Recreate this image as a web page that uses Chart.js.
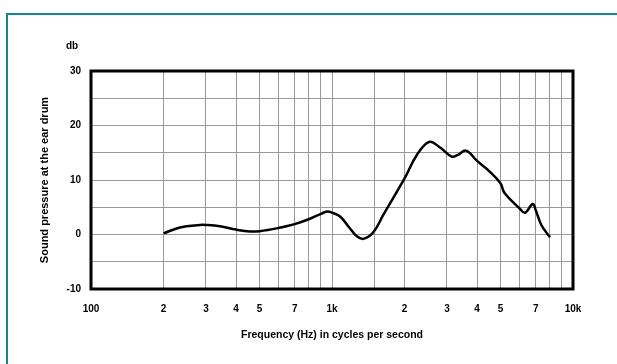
<!DOCTYPE html>
<html>
<head>
<meta charset="utf-8">
<title>Sound pressure at the ear drum</title>
<script src="https://cdn.jsdelivr.net/npm/chart.js@4/dist/chart.umd.min.js"></script>
<style>
  html, body { margin: 0; padding: 0; background: #fff; overflow: hidden; }
  #wrap { position: relative; width: 617px; height: 364px; }
  #frame {
    position: absolute; left: 6px; top: 13px; right: -20px; bottom: -20px;
    border-left: 2px solid #17868b; border-top: 2px solid #17868b;
  }
  canvas { position: absolute; left: 0; top: 0; }
</style>
</head>
<body>
<div id="wrap">
  <div id="frame"></div>
  <canvas id="chart" width="617" height="364"></canvas>
</div>
<script>
// frequency (Hz) and response (db)
const freqs = [200, 234, 283, 300, 343, 400, 457, 500, 600, 700, 800, 900, 955, 1000,
  1080, 1188, 1266, 1349, 1484, 1632, 2000, 2250, 2533, 2800, 3138, 3330, 3597,
  4000, 4500, 5000, 5200, 6000, 6320, 6805, 7000, 7400, 8030];
const dbValues = [0.2, 1.3, 1.75, 1.75, 1.5, 0.9, 0.55, 0.6, 1.2, 1.9, 2.8, 3.8, 4.2, 4.0,
  3.3, 1.1, -0.3, -0.8, 0.4, 3.6, 10.3, 14.6, 17.0, 16.0, 14.3, 14.6, 15.4,
  13.5, 11.6, 9.4, 7.6, 4.8, 4.0, 5.6, 4.5, 1.7, -0.5];

// tick labels on the frequency axis
const xTickValues = [100, 200, 300, 400, 500, 700, 1000, 2000, 3000, 4000, 5000, 7000, 10000];
const xTickText = ['100', '2', '3', '4', '5', '7', '1k', '2', '3', '4', '5', '7', '10k'];
const yLabels = [-10, 0, 10, 20, 30];

const FONT = '"Liberation Sans", Arial, Helvetica, sans-serif';
const boldFont = { family: FONT, size: 10, weight: 'bold' };

const points = freqs.map((f, i) => ({ x: f, y: dbValues[i] }));

// thick black box round the plot, plus the "db" unit label
const framePlugin = {
  id: 'frame',
  afterDraw(chart) {
    const { ctx, chartArea: a } = chart;
    ctx.save();
    ctx.strokeStyle = '#000';
    ctx.lineWidth = 3;
    ctx.strokeRect(a.left, a.top, a.right - a.left, a.bottom - a.top);
    ctx.fillStyle = '#000';
    ctx.font = 'bold 10px ' + FONT;
    ctx.textAlign = 'center';
    ctx.textBaseline = 'middle';
    ctx.fillText('db', 72, 46);
    ctx.restore();
  }
};

new Chart(document.getElementById('chart').getContext('2d'), {
  type: 'scatter',
  data: {
    datasets: [{
      data: points,
      showLine: true,
      borderColor: '#000',
      borderWidth: 2.5,
      pointRadius: 0,
      tension: 0.4,
      fill: false
    }]
  },
  options: {
    responsive: false,
    animation: false,
    layout: { padding: { left: 34, right: 44, top: 71, bottom: 19 } },
    plugins: { legend: { display: false }, tooltip: { enabled: false } },
    scales: {
      x: {
        type: 'logarithmic',
        min: 100,
        max: 10000,
        afterFit: (scale) => { scale.height = 56; },
        grid: { color: '#999', lineWidth: 1, drawTicks: false },
        border: { display: false },
        ticks: {
          color: '#000',
          font: boldFont,
          padding: 14,
          autoSkip: false,
          maxRotation: 0,
          callback: (value) => {
            const idx = xTickValues.indexOf(Math.round(value));
            return idx >= 0 ? xTickText[idx] : '';
          }
        },
        title: {
          display: true,
          text: 'Frequency (Hz) in cycles per second',
          color: '#000',
          font: { family: FONT, size: 10.5, weight: 'bold' }
        }
      },
      y: {
        min: -10,
        max: 30,
        afterFit: (scale) => { scale.width = 57; },
        grid: { color: '#999', lineWidth: 1, drawTicks: false },
        border: { display: false },
        ticks: {
          stepSize: 5,
          color: '#000',
          font: boldFont,
          padding: 10,
          callback: (value) => yLabels.includes(value) ? String(value) : ''
        },
        title: {
          display: true,
          text: 'Sound pressure at the ear drum',
          color: '#000',
          font: { family: FONT, size: 11, weight: 'bold' }
        }
      }
    }
  },
  plugins: [framePlugin]
});
</script>
</body>
</html>
